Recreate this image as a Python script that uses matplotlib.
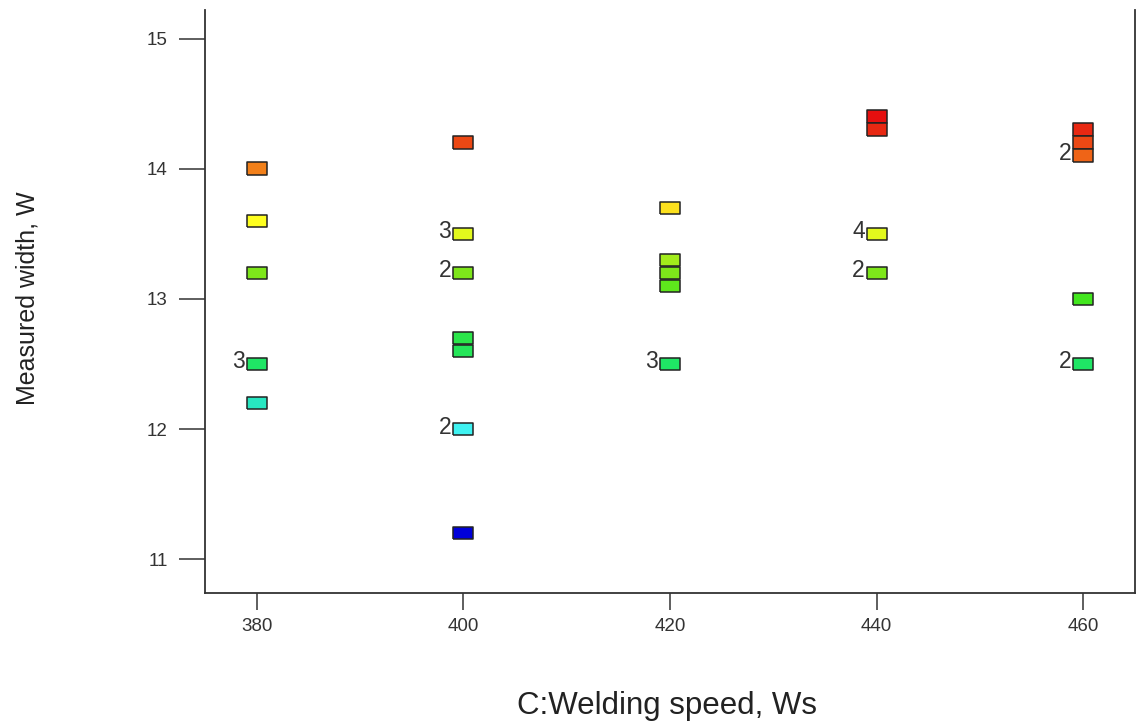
import matplotlib
matplotlib.use("Agg")
import matplotlib.pyplot as plt
from matplotlib.colors import LinearSegmentedColormap, Normalize

plt.rcParams['font.family'] = ['Liberation Sans', 'DejaVu Sans']

# ---- data ----
speed = [380, 380, 380, 380, 380,
         400, 400, 400, 400, 400, 400, 400,
         420, 420, 420, 420, 420,
         440, 440, 440, 440,
         460, 460, 460, 460, 460]
width = [14.0, 13.6, 13.2, 12.5, 12.2,
         14.2, 13.5, 13.2, 12.7, 12.6, 12.0, 11.2,
         13.7, 13.3, 13.2, 13.1, 12.5,
         14.4, 14.3, 13.5, 13.2,
         14.3, 14.2, 14.1, 13.0, 12.5]
counts = [1, 1, 1, 3, 1,
          1, 3, 2, 1, 1, 2, 1,
          1, 1, 1, 1, 3,
          1, 1, 4, 2,
          1, 1, 2, 1, 2]
x_ticks = [380, 400, 420, 440, 460]
y_ticks = [11, 12, 13, 14, 15]
x_label = "C:Welding speed, Ws"
y_label = "Measured width, W"

# ---- colour scale (blue -> cyan -> green -> yellow -> red) ----
vmin, vmax = 11.2, 14.4
cnodes = [(11.2, (0.00, 0.00, 0.85)),
          (12.0, (0.25, 0.95, 0.95)),
          (12.2, (0.15, 0.90, 0.75)),
          (12.5, (0.12, 0.90, 0.40)),
          (13.0, (0.25, 0.90, 0.12)),
          (13.2, (0.50, 0.90, 0.10)),
          (13.6, (1.00, 1.00, 0.12)),
          (14.0, (0.95, 0.50, 0.10)),
          (14.4, (0.90, 0.06, 0.06))]
cmap = LinearSegmentedColormap.from_list(
    "de", [((v - vmin) / (vmax - vmin), c) for v, c in cnodes])

fig = plt.figure(figsize=(11.39, 7.24), dpi=100)
ax = fig.add_axes([205 / 1139, 1 - 593 / 724, 930 / 1139, 583 / 724])

rect = [(-1, -0.63), (1, -0.63), (1, 0.63), (-1, 0.63), (-1, -0.63)]
ax.scatter(speed, width, c=width, cmap=cmap, norm=Normalize(vmin, vmax),
           marker=rect, s=205, edgecolors='#222222', linewidths=1.1, zorder=3)

for xs, ys, n in zip(speed, width, counts):
    if n > 1:
        ax.annotate(str(n), (xs, ys), xytext=(-12, 2), textcoords='offset pixels',
                    ha='right', va='center', fontsize=16.5, color='#333333')

ax.set_xlim(375, 465)
ax.set_ylim(10.74, 15.22)
ax.set_xticks(x_ticks)
ax.set_yticks(y_ticks)
ax.tick_params(axis='y', length=19, width=1.1, color='#333333', labelsize=13.5,
               labelcolor='#333333', pad=8)
ax.tick_params(axis='x', length=12, width=1.1, color='#333333', labelsize=13.5,
               labelcolor='#333333', pad=6)

ax.spines['top'].set_visible(False)
for s in ['left', 'bottom', 'right']:
    ax.spines[s].set_color('#333333')
    ax.spines[s].set_linewidth(1.3)

ax.set_xlabel(x_label, fontsize=22.5, color='#222222', va='center')
ax.xaxis.set_label_coords(0.497, -0.194)
ax.set_ylabel(y_label, fontsize=18, color='#222222', va='center')
ax.yaxis.set_label_coords(-0.191, 0.506)

fig.savefig("out.png", dpi=100)
